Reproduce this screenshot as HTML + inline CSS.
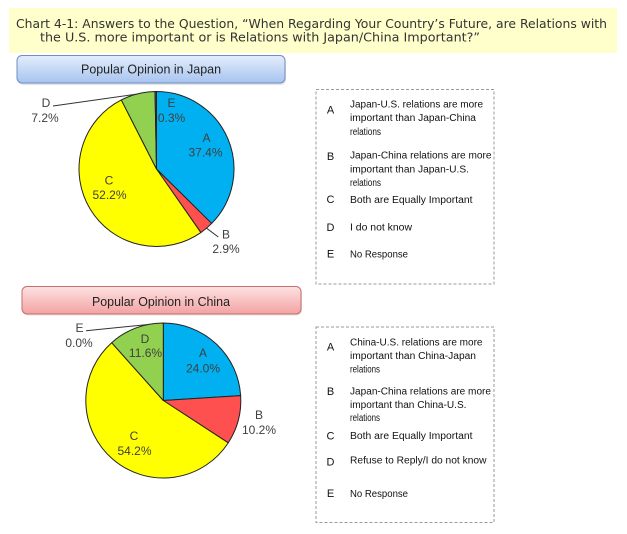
<!DOCTYPE html>
<html><head><meta charset="utf-8"><style>
html,body{margin:0;padding:0;background:#fff;}
svg{display:block;}
text{font-family:"Liberation Sans",Arial,sans-serif;}
text.t{font-family:"DejaVu Sans",Verdana,sans-serif;}
</style></head><body>
<svg width="627" height="534" viewBox="0 0 627 534" xmlns="http://www.w3.org/2000/svg">
<defs>
<linearGradient id="gb" x1="0" y1="0" x2="0" y2="1">
<stop offset="0" stop-color="#e4eefc"/><stop offset="1" stop-color="#a6c3ef"/>
</linearGradient>
<linearGradient id="gr" x1="0" y1="0" x2="0" y2="1">
<stop offset="0" stop-color="#fde2e2"/><stop offset="1" stop-color="#f3a2a2"/>
</linearGradient>
</defs>
<rect width="627" height="534" fill="#fff"/>
<!-- banner -->
<rect x="9" y="8" width="608" height="45" fill="#ffffcc"/>
<text class="t" x="16" y="28" font-size="12.5" fill="#333" textLength="591" lengthAdjust="spacingAndGlyphs">Chart 4-1: Answers to the Question, “When Regarding Your Country’s Future, are Relations with</text>
<text class="t" x="40" y="41.5" font-size="12.5" fill="#333" textLength="440" lengthAdjust="spacingAndGlyphs">the U.S. more important or is Relations with Japan/China Important?”</text>

<!-- Japan header -->
<rect x="18" y="57" width="268" height="28" rx="5" fill="#c8c8c8" opacity="0.5"/>
<rect x="17" y="55.5" width="268" height="27.5" rx="5" fill="url(#gb)" stroke="#6f8fc4" stroke-width="1"/>
<text x="151" y="73.5" font-size="12.5" fill="#222" text-anchor="middle" textLength="140" lengthAdjust="spacingAndGlyphs">Popular Opinion in Japan</text>

<!-- Japan pie -->
<g stroke="#222" stroke-width="1" stroke-linejoin="round">
<path d="M156.5,169 L156.5,91.5 A77.5,77.5 0 0 1 211.66,223.44 Z" fill="#00b0f0"/>
<path d="M156.5,169 L211.66,223.44 A77.5,77.5 0 0 1 200.86,232.55 Z" fill="#ff5050"/>
<path d="M156.5,169 L200.86,232.55 A77.5,77.5 0 1 1 121.31,99.95 Z" fill="#ffff00"/>
<path d="M156.5,169 L121.31,99.95 A77.5,77.5 0 0 1 155.04,91.51 Z" fill="#92d050"/>
<path d="M156.5,169 L155.04,91.51 A77.5,77.5 0 0 1 156.5,91.5 Z" fill="#7030a0"/>
</g>
<g stroke="#333" stroke-width="1" fill="none">
<path d="M53,106 L137.5,94"/>
<path d="M206.7,228.3 L218.3,237"/>
</g>
<g font-size="12" fill="#404040" text-anchor="middle">
<text x="46" y="107">D</text><text x="45" y="122">7.2%</text>
<text x="171.5" y="107">E</text><text x="171.5" y="122">0.3%</text>
<text x="206.5" y="142">A</text><text x="205.5" y="156.5">37.4%</text>
<text x="109" y="184.5">C</text><text x="109.5" y="199">52.2%</text>
<text x="226" y="238.5">B</text><text x="226" y="253">2.9%</text>
</g>

<!-- Japan legend -->
<rect x="316" y="89.5" width="178" height="194.5" fill="none" stroke="#9a9a9a" stroke-width="1" stroke-dasharray="3,2"/>
<g font-size="11" fill="#111" text-anchor="middle">
<text x="330.5" y="113.5">A</text>
<text x="330.5" y="160">B</text>
<text x="330.5" y="203">C</text>
<text x="330.5" y="231">D</text>
<text x="330.5" y="257.5">E</text>
</g>
<g font-size="10" fill="#111">
<text x="350" y="107.5" textLength="133" lengthAdjust="spacingAndGlyphs">Japan-U.S. relations are more</text>
<text x="350" y="121" textLength="126" lengthAdjust="spacingAndGlyphs">important than Japan-China</text>
<text x="350" y="135" textLength="31" lengthAdjust="spacingAndGlyphs">relations</text>
<text x="350" y="158.5" textLength="141.5" lengthAdjust="spacingAndGlyphs">Japan-China relations are more</text>
<text x="350" y="172.5" textLength="119" lengthAdjust="spacingAndGlyphs">important than Japan-U.S.</text>
<text x="350" y="186" textLength="31" lengthAdjust="spacingAndGlyphs">relations</text>
<text x="350" y="203" textLength="122.5" lengthAdjust="spacingAndGlyphs">Both are Equally Important</text>
<text x="350" y="230.5" textLength="62" lengthAdjust="spacingAndGlyphs">I do not know</text>
<text x="350" y="257.5" textLength="58" lengthAdjust="spacingAndGlyphs">No Response</text>
</g>

<!-- China header -->
<rect x="23" y="288" width="279" height="27.5" rx="5" fill="#c8c8c8" opacity="0.5"/>
<rect x="22" y="286.5" width="279" height="27.5" rx="5" fill="url(#gr)" stroke="#c86e6e" stroke-width="1"/>
<text x="161" y="306" font-size="12.5" fill="#222" text-anchor="middle" textLength="138" lengthAdjust="spacingAndGlyphs">Popular Opinion in China</text>

<!-- China pie -->
<g stroke="#222" stroke-width="1" stroke-linejoin="round">
<path d="M163.3,400.5 L163.3,323 A77.5,77.5 0 0 1 240.65,395.63 Z" fill="#00b0f0"/>
<path d="M163.3,400.5 L240.65,395.63 A77.5,77.5 0 0 1 228.21,442.85 Z" fill="#ff5050"/>
<path d="M163.3,400.5 L228.21,442.85 A77.5,77.5 0 1 1 111.68,342.69 Z" fill="#ffff00"/>
<path d="M163.3,400.5 L111.68,342.69 A77.5,77.5 0 0 1 163.3,323 Z" fill="#92d050"/>
</g>
<path d="M86,330.7 L148.3,324.5" stroke="#333" stroke-width="1" fill="none"/>
<g font-size="12" fill="#404040" text-anchor="middle">
<text x="79.5" y="332">E</text><text x="79" y="347">0.0%</text>
<text x="145" y="343">D</text><text x="145.5" y="357">11.6%</text>
<text x="203" y="357">A</text><text x="203" y="372.5">24.0%</text>
<text x="259" y="419">B</text><text x="259" y="434">10.2%</text>
<text x="134" y="440">C</text><text x="134.5" y="455">54.2%</text>
</g>

<!-- China legend -->
<rect x="316" y="327" width="178" height="195.5" fill="none" stroke="#9a9a9a" stroke-width="1" stroke-dasharray="3,2"/>
<g font-size="11" fill="#111" text-anchor="middle">
<text x="330.5" y="350.5">A</text>
<text x="330.5" y="395">B</text>
<text x="330.5" y="439.5">C</text>
<text x="330.5" y="465.5">D</text>
<text x="330.5" y="497">E</text>
</g>
<g font-size="10" fill="#111">
<text x="350" y="345.5" textLength="132.5" lengthAdjust="spacingAndGlyphs">China-U.S. relations are more</text>
<text x="350" y="359" textLength="126" lengthAdjust="spacingAndGlyphs">important than China-Japan</text>
<text x="350" y="372.5" textLength="30" lengthAdjust="spacingAndGlyphs">relations</text>
<text x="350" y="394.5" textLength="141" lengthAdjust="spacingAndGlyphs">Japan-China relations are more</text>
<text x="350" y="408" textLength="116.5" lengthAdjust="spacingAndGlyphs">important than China-U.S.</text>
<text x="350" y="421" textLength="30" lengthAdjust="spacingAndGlyphs">relations</text>
<text x="350" y="439" textLength="122.5" lengthAdjust="spacingAndGlyphs">Both are Equally Important</text>
<text x="350" y="463.5" textLength="136.5" lengthAdjust="spacingAndGlyphs">Refuse to Reply/I do not know</text>
<text x="350" y="496.8" textLength="58" lengthAdjust="spacingAndGlyphs">No Response</text>
</g>
</svg>
</body></html>
